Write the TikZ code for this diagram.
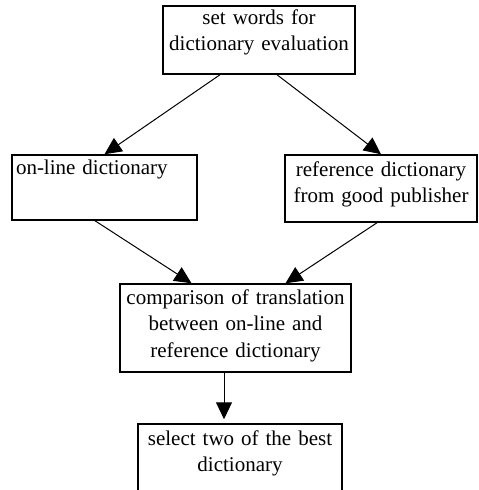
\documentclass[tikz,border=0pt]{standalone}
\usepackage{fontspec}
\setmainfont{Liberation Serif}
\usetikzlibrary{arrows.meta}

\begin{document}
\begin{tikzpicture}[
    x=0.5pt, y=-0.5pt,
    box/.style={rectangle, draw, line width=0.75pt, inner xsep=2pt, inner ysep=0pt,
        font=\fontsize{10.5}{13}\selectfont, align=center},
    arr/.style={-{Triangle[width=8pt, length=8.5pt]}, line width=0.5pt},
]
    \clip (0,0) rectangle (478,490);
    \node[box, text width=92pt, text height=9.5pt, text depth=24.5pt] (words) at (259,40) {set words for\\dictionary evaluation};
    \node[box, text width=88.5pt, text height=10pt, text depth=22.5pt, align=left] (online) at (104.5,187.5) {on-line dictionary};
    \node[box, text width=92pt, text height=11pt, text depth=22.5pt] (refdict) at (381,188.5) {reference dictionary\\from good publisher};
    \node[box, text width=111.5pt, text height=10.5pt, text depth=33.5pt] (compare) at (235.5,328) {comparison of translation\\between on-line and\\reference dictionary};
    \node[box, text width=98pt, text height=10.5pt, text depth=27.5pt] (select) at (240,462) {select two of the best\\dictionary};

    \draw[arr] ([xshift=-19.5pt]words.south) -- (online.north);
    \draw[arr] ([xshift=9pt]words.south) -- (refdict.north);
    \draw[arr] ([xshift=-4.75pt]online.south) -- ([xshift=-22pt]compare.north);
    \draw[arr] ([xshift=-2pt]refdict.south) -- ([xshift=25pt]compare.north);
    \draw[arr, shorten >=2pt] ([xshift=-5.75pt]compare.south) -- ([xshift=-8pt]select.north);
\end{tikzpicture}
\end{document}
